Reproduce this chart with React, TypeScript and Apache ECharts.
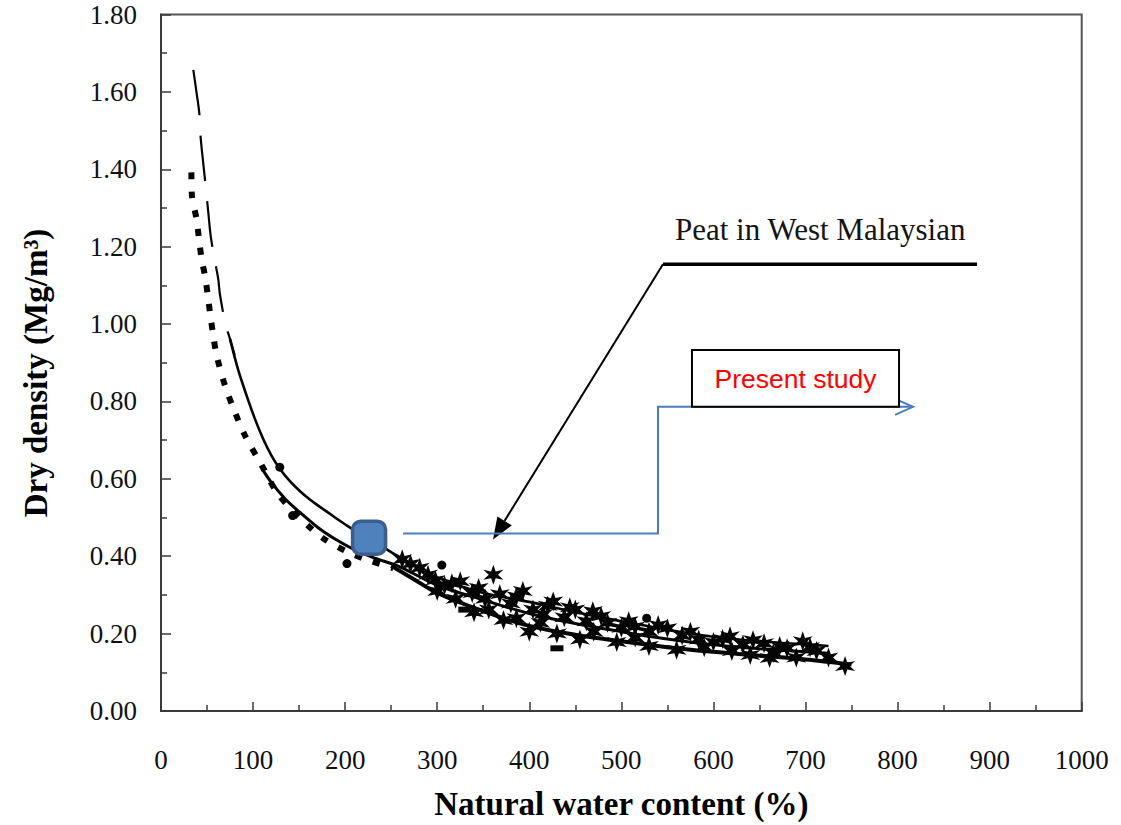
import React, { useEffect, useRef } from "react";
import * as echarts from "echarts";

// Axis ranges and tick spacing
const X_RANGE = [0, 1000];
const X_STEP = 100;
const Y_RANGE = [0, 1.8];
const Y_STEP = 0.2;

// Upper peat curve: long-dashed top portion (water content %, dry density Mg/m3)
const upperDashed: number[][] = [
  [35.1, 1.657], [38.5, 1.6], [41.6, 1.545], [43.1, 1.481], [47.3, 1.384],
  [51.4, 1.288], [54, 1.227], [58, 1.17], [62.2, 1.116], [64, 1.077],
  [70, 1.0], [75, 0.961], [80, 0.92],
];

// Upper peat curve: solid continuation
const upperSolid: number[][] = [
  [75, 0.961], [84, 0.88], [93, 0.815], [102, 0.755], [111, 0.703], [120, 0.66],
  [129, 0.626], [140, 0.594], [151, 0.568], [162, 0.546], [173, 0.527], [188, 0.502],
  [202, 0.479], [220, 0.452], [238, 0.428], [256, 0.402], [274, 0.377], [300, 0.345],
  [350, 0.305], [400, 0.282], [450, 0.255], [500, 0.232], [550, 0.21], [600, 0.192],
  [650, 0.18], [700, 0.172], [725, 0.168],
];

// Lower peat curve drawn with heavy short dashes
const lowerDotted: number[][] = [
  [33, 1.392], [33.5, 1.335], [38.7, 1.27], [41.3, 1.219], [44.2, 1.167],
  [47.8, 1.124], [51.4, 1.064], [53.2, 1.03], [56.8, 0.97], [60.5, 0.918],
  [69.5, 0.841], [80.4, 0.772], [91.2, 0.712], [109.3, 0.635], [125.6, 0.566],
  [143.7, 0.515], [160, 0.478], [176.3, 0.446], [201.7, 0.412], [225, 0.39],
  [252.3, 0.369],
];

// Middle solid curve
const middleSolid: number[][] = [
  [110, 0.625], [120, 0.59], [135, 0.548], [150, 0.515], [170, 0.475],
  [190, 0.443], [209, 0.418], [230, 0.397], [260, 0.372], [300, 0.325],
  [350, 0.287], [400, 0.252], [450, 0.226], [500, 0.205], [550, 0.186],
  [600, 0.171], [650, 0.161], [700, 0.153], [725, 0.149],
];

// Lower solid curve through the high water content band
const lowerSolid: number[][] = [
  [250, 0.375], [275, 0.34], [300, 0.305], [350, 0.258], [400, 0.22],
  [450, 0.197], [500, 0.18], [550, 0.165], [600, 0.153], [650, 0.143],
  [700, 0.133], [750, 0.12],
];

// Star markers (individual samples)
const starPoints: number[][] = [
  [262, 0.392], [271, 0.38], [281, 0.37], [290, 0.352], [298, 0.338], [308, 0.325],
  [316, 0.33], [325, 0.335], [338, 0.305], [345, 0.318], [352, 0.29], [361, 0.352],
  [368, 0.302], [380, 0.278], [386, 0.296], [393, 0.31], [404, 0.262], [415, 0.25],
  [420, 0.272], [426, 0.283], [438, 0.242], [444, 0.268], [450, 0.262], [462, 0.232],
  [469, 0.258], [478, 0.245], [485, 0.228], [500, 0.215], [508, 0.232], [515, 0.218],
  [530, 0.205], [540, 0.222], [550, 0.214], [566, 0.195], [575, 0.205], [584, 0.185],
  [600, 0.178], [610, 0.186], [618, 0.193], [632, 0.172], [643, 0.183], [655, 0.175],
  [661, 0.137], [672, 0.168], [680, 0.162], [697, 0.18], [705, 0.165], [712, 0.155],
  [743, 0.116],
  [300, 0.31], [320, 0.29], [340, 0.255], [356, 0.262], [372, 0.235], [386, 0.24],
  [400, 0.205], [412, 0.228], [430, 0.2], [455, 0.185], [470, 0.205], [495, 0.178],
  [515, 0.19], [530, 0.168], [560, 0.158], [590, 0.165], [620, 0.155], [640, 0.145],
  [665, 0.15], [690, 0.138], [725, 0.138],
];

// Round markers
const dotPoints: number[][] = [
  [202, 0.381], [305, 0.377], [527.5, 0.24], [129, 0.63], [143, 0.505],
];

// Short bar markers
const barPoints: number[][] = [[430, 0.162], [330, 0.262]];

// Present study sample
const presentStudy: number[][] = [[226, 0.448]];

// Annotation anchors, in axis units
const PEAT_SHELF = [[545.2, 1.1545], [886.3, 1.1545]];
const PEAT_TIP = [360.6, 0.443];
const PEAT_LABEL_AT = [716, 1.245];
const STUDY_PATH = [[262.8, 0.4587], [539.8, 0.4587], [539.8, 0.786], [816.8, 0.786]];
const STUDY_BOX = [[576.7, 0.9329], [801.6, 0.786]];

const STAR =
  "path://M0,-10L-2,-3.4L-8.66,-5L-4,0L-8.66,5L-2,3.4L0,10L2,3.4L8.66,5L4,0L8.66,-5L2,-3.4Z";

const SERIF = '"Liberation Serif", "Times New Roman", serif';
const INK = "#050505";

export default function App() {
  const ref = useRef<HTMLDivElement>(null);

  useEffect(() => {
    if (!ref.current) return;
    const chart = echarts.init(ref.current, undefined, { renderer: "svg" });

    const axisLine = { show: true, lineStyle: { color: "#3a3a3a", width: 2 } };
    const tickStyle = { color: "#3a3a3a", width: 1.5 };

    const line = (data: number[][], width: number, type: any = "solid") => ({
      type: "line",
      data,
      showSymbol: false,
      symbol: "none",
      smooth: 0.3,
      lineStyle: { color: INK, width, type, cap: "butt", opacity: 1 },
      z: 3,
    });

    const scatter = (data: number[][], symbol: string, size: any, z = 4) => ({
      type: "scatter",
      data,
      symbol,
      symbolSize: size,
      itemStyle: { color: INK, opacity: 1 },
      z,
    });

    chart.setOption({
      animation: false,
      backgroundColor: "#ffffff",
      grid: {
        left: 161,
        top: 14.5,
        right: 39.3,
        bottom: 112,
        show: true,
        borderColor: "#555",
        borderWidth: 2,
      },
      xAxis: {
        type: "value",
        min: X_RANGE[0],
        max: X_RANGE[1],
        interval: X_STEP,
        name: "Natural water content (%)",
        nameLocation: "middle",
        nameGap: 76,
        nameTextStyle: { fontFamily: SERIF, fontWeight: "bold", fontSize: 33, color: "#000" },
        axisLine,
        axisTick: { show: true, inside: true, length: 9, lineStyle: tickStyle },
        minorTick: { show: true, splitNumber: 2, length: 6, lineStyle: tickStyle },
        splitLine: { show: false },
        minorSplitLine: { show: false },
        axisLabel: {
          fontFamily: SERIF,
          fontSize: 27,
          color: "#111",
          margin: 35,
          formatter: (v: number) => String(v),
        },
      },
      yAxis: {
        type: "value",
        min: Y_RANGE[0],
        max: Y_RANGE[1],
        interval: Y_STEP,
        axisLine,
        axisTick: { show: true, inside: true, length: 10, lineStyle: tickStyle },
        minorTick: { show: true, splitNumber: 2, length: 6, lineStyle: tickStyle },
        splitLine: { show: false },
        minorSplitLine: { show: false },
        axisLabel: {
          fontFamily: SERIF,
          fontSize: 27,
          color: "#111",
          margin: 24,
          formatter: (v: number) => v.toFixed(2),
        },
      },
      series: [
        line(upperDashed, 2.2, [46, 20]),
        line(upperSolid, 2.6),
        line(lowerDotted, 6, [7, 12]),
        line(middleSolid, 3),
        line(lowerSolid, 4),
        scatter(starPoints, STAR, 20),
        scatter(dotPoints, "circle", 9),
        scatter(barPoints, "rect", [13, 6]),
        {
          type: "scatter",
          data: presentStudy,
          symbol: "roundRect",
          symbolSize: 33,
          itemStyle: { color: "#4F81BD", borderColor: "#3B5E8C", borderWidth: 3.5, opacity: 1 },
          z: 6,
        },
      ],
    });

    const px = (p: number[]) => chart.convertToPixel({ gridIndex: 0 }, p) as number[];

    // Black leader line with filled arrow head
    const shelfA = px(PEAT_SHELF[0]);
    const shelfB = px(PEAT_SHELF[1]);
    const tip = px(PEAT_TIP);
    const dx = tip[0] - shelfA[0];
    const dy = tip[1] - shelfA[1];
    const len = Math.hypot(dx, dy);
    const ux = dx / len;
    const uy = dy / len;
    const headLen = 22;
    const headHalf = 8.5;
    const baseX = tip[0] - ux * headLen;
    const baseY = tip[1] - uy * headLen;
    const labelAt = px(PEAT_LABEL_AT);

    // Blue connector with open arrow head
    const blue = STUDY_PATH.map(px);
    const bTip = blue[blue.length - 1];
    const box0 = px(STUDY_BOX[0]);
    const box1 = px(STUDY_BOX[1]);

    chart.setOption({
      graphic: [
        {
          type: "text",
          x: 36,
          y: 373,
          rotation: Math.PI / 2,
          style: {
            text: "Dry density (Mg/m³)",
            fontFamily: SERIF,
            fontWeight: "bold",
            fontSize: 33,
            fill: "#000",
            align: "center",
            verticalAlign: "middle",
          },
          z: 10,
        },
        {
          type: "line",
          shape: { x1: shelfA[0], y1: shelfA[1], x2: shelfB[0], y2: shelfB[1] },
          style: { stroke: "#000", lineWidth: 3.5 },
          z: 10,
        },
        {
          type: "line",
          shape: { x1: shelfA[0], y1: shelfA[1], x2: baseX, y2: baseY },
          style: { stroke: "#000", lineWidth: 2 },
          z: 10,
        },
        {
          type: "polygon",
          shape: {
            points: [
              [tip[0], tip[1]],
              [baseX - uy * headHalf, baseY + ux * headHalf],
              [baseX + uy * headHalf, baseY - ux * headHalf],
            ],
          },
          style: { fill: "#000" },
          z: 10,
        },
        {
          type: "text",
          x: labelAt[0],
          y: labelAt[1],
          style: {
            text: "Peat in West Malaysian",
            fontFamily: SERIF,
            fontSize: 31,
            fill: "#141414",
            align: "center",
            verticalAlign: "middle",
          },
          z: 10,
        },
        {
          type: "polyline",
          shape: { points: blue },
          style: { stroke: "#4A7EBB", lineWidth: 2, fill: null },
          z: 10,
        },
        {
          type: "polyline",
          shape: {
            points: [
              [bTip[0] - 18, bTip[1] - 8],
              [bTip[0], bTip[1]],
              [bTip[0] - 18, bTip[1] + 8],
            ],
          },
          style: { stroke: "#4A7EBB", lineWidth: 2, fill: null },
          z: 10,
        },
        {
          type: "rect",
          shape: {
            x: box0[0],
            y: box0[1],
            width: box1[0] - box0[0],
            height: box1[1] - box0[1],
          },
          style: { fill: "#fff", stroke: "#000", lineWidth: 2 },
          z: 11,
        },
        {
          type: "text",
          x: (box0[0] + box1[0]) / 2,
          y: (box0[1] + box1[1]) / 2 + 1,
          style: {
            text: "Present study",
            fontFamily: '"Liberation Sans", Arial, sans-serif',
            fontSize: 26.5,
            fill: "#ff0000",
            align: "center",
            verticalAlign: "middle",
          },
          z: 12,
        },
      ],
    });

    return () => chart.dispose();
  }, []);

  return (
    <div
      ref={ref}
      style={{ position: "fixed", left: 0, top: 0, width: 1121, height: 825, background: "#fff" }}
    />
  );
}
